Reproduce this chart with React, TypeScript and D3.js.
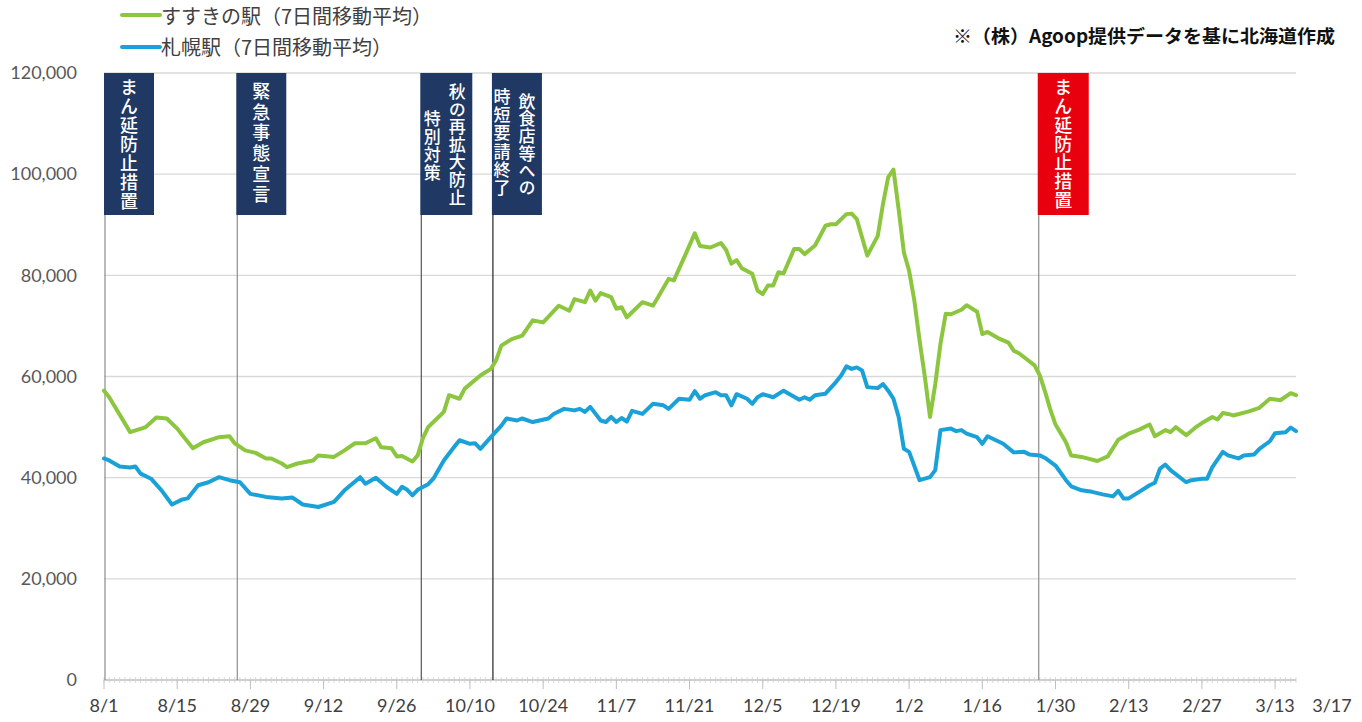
import React from "react";
import * as d3 from "d3";

// day offsets from 8/1/2021
const tickDays = [0, 14, 28, 42, 56, 70, 84, 98, 112, 126, 140, 154, 168, 182, 196, 210, 224];
const tickLabels = ["8/1", "8/15", "8/29", "9/12", "9/26", "10/10", "10/24", "11/7", "11/21", "12/5", "12/19", "1/2", "1/16", "1/30", "2/13", "2/27", "3/13"];
const endLabel = "3/17";
const yTicks = [0, 20000, 40000, 60000, 80000, 100000, 120000];

const seriesNames = ["すすきの駅（7日間移動平均）", "札幌駅（7日間移動平均）"];

const susukinoDays = [0, 1, 5, 8, 10, 12, 14, 15, 17, 19, 22, 24, 25, 27, 29, 31, 32, 34, 35, 37, 40, 41, 44, 46, 48, 50, 52, 53, 55, 56, 57, 59, 60, 61, 62, 64, 65, 66, 68, 69, 72, 74, 75, 76, 78, 80, 82, 84, 87, 89, 90, 92, 93, 94, 95, 97, 98, 99, 100, 101, 103, 105, 106, 108, 109, 111, 113, 114, 116, 118, 119, 120, 121, 122, 124, 125, 126, 127, 128, 129, 130, 132, 133, 134, 136, 138, 139, 140, 142, 143, 144, 146, 148, 149, 150, 151, 152, 153, 154, 155, 156, 157, 158, 159, 160, 161, 162, 164, 165, 167, 168, 169, 171, 173, 174, 175, 176, 178, 179, 180, 181, 182, 184, 185, 187, 190, 192, 194, 196, 198, 200, 201, 203, 204, 205, 207, 209, 210, 212, 213, 214, 215, 216, 219, 221, 223, 225, 227, 228];
const susukinoValues = [57200, 55900, 49000, 50000, 51900, 51700, 49700, 48400, 45800, 47000, 48000, 48200, 46800, 45400, 44900, 43800, 43800, 42800, 42100, 42800, 43400, 44400, 44100, 45400, 46800, 46800, 47800, 46000, 45800, 44200, 44300, 43200, 44400, 47800, 50000, 52000, 53000, 56300, 55600, 57600, 60200, 61500, 63200, 66100, 67400, 68100, 71100, 70700, 74000, 73000, 75300, 74700, 77000, 75000, 76500, 75700, 73400, 73700, 71700, 72700, 74700, 74000, 75700, 79300, 79000, 83600, 88300, 85800, 85500, 86400, 85000, 82300, 83000, 81400, 80300, 77000, 76300, 78000, 78000, 80600, 80400, 85200, 85200, 84200, 85900, 89800, 90100, 90100, 92100, 92200, 91100, 83900, 87800, 94100, 99400, 100900, 93000, 84500, 80900, 75000, 67100, 60000, 52000, 58500, 66500, 72400, 72300, 73200, 74100, 72800, 68400, 68800, 67600, 66700, 65100, 64600, 63800, 62200, 60200, 57000, 53500, 50500, 47000, 44400, 44100, 43300, 44200, 47500, 48700, 49500, 50500, 48200, 49400, 49000, 50000, 48400, 50100, 50800, 52000, 51500, 52800, 52600, 52300, 53100, 53800, 55600, 55300, 56700, 56300];

const sapporoDays = [0, 1, 3, 5, 6, 7, 9, 11, 13, 15, 16, 18, 20, 22, 24, 26, 28, 31, 34, 36, 38, 41, 44, 46, 49, 50, 52, 54, 56, 57, 58, 59, 60, 62, 63, 65, 67, 68, 70, 71, 72, 74, 76, 77, 79, 80, 82, 85, 86, 88, 90, 91, 92, 93, 95, 96, 97, 98, 99, 100, 101, 103, 105, 107, 108, 110, 112, 113, 114, 115, 117, 118, 119, 120, 121, 123, 124, 125, 126, 128, 130, 131, 133, 134, 135, 136, 138, 140, 141, 142, 143, 144, 145, 146, 148, 149, 150, 151, 152, 153, 154, 156, 158, 159, 160, 162, 163, 164, 165, 167, 168, 169, 172, 174, 176, 177, 179, 180, 182, 184, 185, 187, 189, 191, 193, 194, 195, 196, 198, 200, 201, 202, 203, 204, 207, 208, 210, 211, 212, 214, 215, 217, 218, 220, 221, 223, 224, 226, 227, 228];
const sapporoValues = [43800, 43400, 42200, 42000, 42200, 40800, 39800, 37500, 34700, 35700, 35900, 38500, 39100, 40100, 39500, 39100, 36800, 36200, 35900, 36100, 34700, 34200, 35200, 37500, 40100, 38800, 40000, 38200, 36800, 38200, 37600, 36500, 37600, 38700, 39800, 43400, 46100, 47400, 46700, 46800, 45700, 48000, 50300, 51700, 51300, 51700, 51000, 51700, 52600, 53600, 53300, 53600, 53000, 54000, 51300, 51000, 52000, 51000, 51800, 51100, 53200, 52600, 54600, 54300, 53600, 55600, 55400, 57100, 55600, 56300, 56900, 56300, 56300, 54300, 56500, 55600, 54600, 55900, 56500, 55900, 57200, 56600, 55400, 55900, 55400, 56300, 56600, 58900, 60200, 62000, 61500, 61800, 61200, 57900, 57700, 58500, 57200, 55600, 52000, 45700, 45100, 39500, 40100, 41500, 49400, 49700, 49200, 49400, 48700, 48000, 46700, 48200, 46700, 45000, 45100, 44600, 44400, 43900, 42400, 39500, 38300, 37500, 37200, 36700, 36300, 37400, 35900, 35900, 37200, 38500, 39000, 41800, 42600, 41500, 39100, 39500, 39800, 39800, 42100, 45100, 44400, 43800, 44400, 44600, 45700, 47200, 48800, 49000, 49900, 49200];

const eventDays = [0, 25.3, 60.5, 74.2, 178.6];
const eventTexts = [["まん延防止措置"], ["緊急事態宣言"], ["秋の再拡大防止", "特別対策"], ["飲食店等への", "時短要請終了"], ["まん延防止措置"]];

const sourceNote = "※（株）Agoop提供データを基に北海道作成";

const W = 1362;
const H = 722;
const green = "#8cc63f";
const blue = "#1aa2d8";
const navy = "#1f3864";
const red = "#e8000e";
const jp = "'Noto Sans CJK JP', 'Noto Sans', sans-serif";
const num = "Lato, 'Open Sans', sans-serif";

// column layout inside each event box: dx from box left, top of first char, step per char, font size
const colLayout = [
  [{ dx: 25, top: 78, step: 19.1, fs: 18 }],
  [{ dx: 25, top: 82, step: 20.7, fs: 18 }],
  [{ dx: 37, top: 83, step: 17.6, fs: 17 }, { dx: 12, top: 110, step: 18, fs: 17 }],
  [{ dx: 35, top: 93, step: 17.2, fs: 17 }, { dx: 10, top: 88, step: 18.2, fs: 17 }],
  [{ dx: 25.5, top: 78, step: 18.9, fs: 18 }],
];
const boxW = [50, 50, 52, 50, 51];

export default function App() {
  const x = d3.scaleLinear().domain([0, 228]).range([104, 1296]);
  const y = d3.scaleLinear().domain([0, 120000]).range([680, 73]);

  const line = d3
    .line<[number, number]>()
    .x((d) => x(d[0]))
    .y((d) => y(d[1]));

  const gPts = susukinoDays.map((d, i) => [d, susukinoValues[i]] as [number, number]);
  const bPts = sapporoDays.map((d, i) => [d, sapporoValues[i]] as [number, number]);

  const minorDays = d3.range(0, 229);
  const boxTop = 73;
  const boxBottom = 215;

  return (
    <svg width={W} height={H} style={{ position: "absolute", left: 0, top: 0, background: "#fff" }}>
      {/* gridlines */}
      {yTicks.filter((t) => t > 0).map((t) => (
        <line key={t} x1={x(0)} x2={x(228)} y1={y(t)} y2={y(t)} stroke="#d9d9d9" strokeWidth={1.3} />
      ))}
      {/* y labels */}
      {yTicks.map((t) => (
        <text key={"yl" + t} x={77} y={y(t)} dy="0.35em" textAnchor="end" fontFamily={num} fontSize={18} fill="#595959">
          {d3.format(",")(t)}
        </text>
      ))}
      {/* x axis */}
      <line x1={x(0)} x2={x(228)} y1={y(0)} y2={y(0)} stroke="#bfbfbf" strokeWidth={1.3} />
      {minorDays.map((d) => (
        <line key={"m" + d} x1={x(d)} x2={x(d)} y1={y(0) - 3} y2={y(0) + 3} stroke="#d0d0d0" strokeWidth={0.8} />
      ))}
      {tickDays.map((d) => (
        <line key={"t" + d} x1={x(d)} x2={x(d)} y1={y(0)} y2={y(0) + 9} stroke="#bfbfbf" strokeWidth={1} />
      ))}
      {tickDays.map((d, i) => (
        <text key={"xl" + d} x={x(d)} y={712} textAnchor="middle" fontFamily={num} fontSize={18} fill="#404040">
          {tickLabels[i]}
        </text>
      ))}
      <text x={x(228) + 36} y={712} textAnchor="middle" fontFamily={num} fontSize={18} fill="#404040">
        {endLabel}
      </text>

      {/* event lines */}
      {eventDays.map((d, i) => (
        <line
          key={"ev" + i}
          x1={x(d) + 1}
          x2={x(d) + 1}
          y1={boxBottom}
          y2={y(0)}
          stroke={i === 3 ? "#222" : i === 2 ? "#555" : "#8c8c8c"}
          strokeWidth={1.2}
        />
      ))}

      {/* series */}
      <path d={line(gPts) || ""} fill="none" stroke={green} strokeWidth={4} strokeLinejoin="round" strokeLinecap="round" />
      <path d={line(bPts) || ""} fill="none" stroke={blue} strokeWidth={4} strokeLinejoin="round" strokeLinecap="round" />

      {/* event boxes */}
      {eventDays.map((d, i) => {
        const bx = x(d);
        return (
          <g key={"box" + i}>
            <rect x={bx} y={boxTop} width={boxW[i]} height={boxBottom - boxTop} fill={i === 4 ? red : navy} />
            {eventTexts[i].map((col, j) => {
              const L = colLayout[i][j];
              return (
                <text
                  key={j}
                  x={bx + L.dx}
                  y={L.top}
                  style={{ writingMode: "vertical-rl" }}
                  letterSpacing={L.step - L.fs}
                  fontFamily={jp}
                  fontSize={L.fs}
                  fontWeight={500}
                  fill="#fff"
                >
                  {col}
                </text>
              );
            })}
          </g>
        );
      })}

      {/* legend */}
      {seriesNames.map((name, i) => (
        <g key={name}>
          <line x1={122} x2={160} y1={15 + i * 32} y2={15 + i * 32} stroke={i === 0 ? green : blue} strokeWidth={4} strokeLinecap="round" />
          <text x={161} y={17 + i * 31} dy="0.36em" fontFamily={jp} fontSize={20} fill="#404040">
            {name}
          </text>
        </g>
      ))}

      {/* source note */}
      <text x={953} y={43} fontFamily={jp} fontSize={18.5} fontWeight="bold" fill="#111" textLength={382} lengthAdjust="spacingAndGlyphs">
        {sourceNote}
      </text>
    </svg>
  );
}
